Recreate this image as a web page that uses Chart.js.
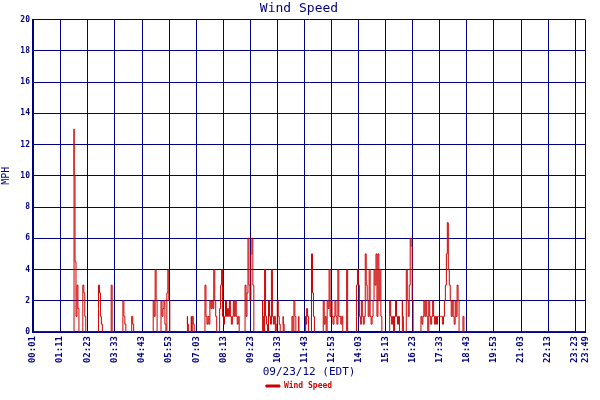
<!DOCTYPE html>
<html><head><script src="https://cdn.jsdelivr.net/npm/chart.js@4/dist/chart.umd.min.js"></script>
<style>body{margin:0;background:#fff}#w{width:600px;height:400px}</style></head>
<body><div id="w"><canvas id="c"></canvas></div>
<script>
const tickLabels=["00:01","01:11","02:23","03:33","04:43","05:53","07:03","08:13","09:23","10:33","11:43","12:53","14:03","15:13","16:23","17:33","18:43","19:53","21:03","22:13","23:23","23:49"];
const tickMinutes=[1,71,143,213,283,353,423,493,563,633,703,773,843,913,983,1053,1123,1193,1263,1333,1403,1429];
// sample slot index (≈2.527 min per slot from 00:01) and wind speed (MPH)
const slots=[42,43,44,45,46,47,48,51,52,53,54,55,67,68,69,70,71,72,80,81,82,92,93,94,95,96,101,102,103,104,
123,124,125,126,127,128,131,132,133,134,135,136,137,138,139,140,141,158,159,160,162,163,164,165,166,
176,177,178,179,180,181,182,183,184,185,186,187,188,189,191,192,193,194,195,196,197,198,199,200,201,202,203,204,205,206,207,208,209,210,211,212,
217,218,219,220,221,222,223,224,225,226,227,235,236,237,238,239,240,241,242,243,244,245,246,247,248,249,250,251,252,253,254,256,257,258,
265,266,267,268,269,270,272,273,279,280,281,282,283,285,286,287,288,289,297,298,299,300,301,302,303,304,305,306,307,308,309,310,311,312,313,314,315,316,317,318,321,322,323,
331,332,333,334,335,336,337,338,339,340,341,342,343,344,345,346,347,348,349,350,351,352,353,354,355,356,357,358,
365,366,367,368,369,370,371,372,373,374,375,376,378,379,380,382,383,384,385,386,387,388,389,390,
397,398,399,400,401,402,403,404,405,406,407,408,409,410,411,412,413,414,415,416,417,418,419,420,421,422,423,424,425,426,427,428,429,430,431,432,433,434,435,436,437,440,441,442];
const windSpeed=[13,10,4.5,1,3,1.5,0,1.5,3,2.5,1,0,1.5,3,2.5,1,0.5,0,1.5,3,0,1,2,1,0.5,0,0.5,1,0.5,0,
0.5,2,1,4,2,0,1,2,1,1.5,2,0.5,0,2.5,4,2,0,1,0.5,0,1,0,1,0.5,0,
1.5,3,1,0.5,1,0.5,2,1.5,2,1.5,4,2,1,0,0.5,1.5,3,4,1,0.5,1,2,1,1.5,1,2,1,0.5,1,2,1,2,1,0.5,1,0,
1.5,3,1,2.5,6,3,2,5,6,3,0,2,1,0,4,1,0.5,0,2,1,0.5,4,1,0.5,1,0,0.5,2,1,0.5,0,1,0.5,0,
0.5,1,0,2,1,0,1,0,1,0.5,1.5,1,0,2.5,5,2.5,1,0,1,2,0.5,1,0,2,1.5,4,1,2,1,0.5,1,2,1,0.5,4,1,1,0.5,1,0,2,4,0,
1,3,4,3,1,0.5,2,1,0.5,1,5,3,2,1,4,1,0.5,1,2,4,3,5,1,5,2,4,1,0,
1,2,1,0.5,1,0,1,2,1,0.5,1,0,2,1,0,3,4,2,1,3,6,5.5,2,0,
0.5,1,0.5,1,2,1,2,1,0,2,1,0.5,1,2,1,0.5,1,0.5,1,1,1,1,1,0.5,1,2,3,5,7,4,3,2,1,2,1,0.5,2,1,3,2,0,1,1,0];
const yTicks=[0,2,4,6,8,10,12,14,16,18,20];
const MIN_PER_SLOT=2.527;
const pts=[{x:1,y:0}];
slots.forEach((s,i)=>{
  const prev=i>0?slots[i-1]:-10;
  if(s-prev>1) pts.push({x:1+s*MIN_PER_SLOT,y:0});
  pts.push({x:1+s*MIN_PER_SLOT,y:windSpeed[i]});
});
pts.push({x:1429,y:0});
const navy='#000080',F="'DejaVu Sans Mono', monospace";
new Chart(document.getElementById('c'),{type:'line',
data:{datasets:[{label:'Wind Speed',data:pts,borderColor:'#cc0000',backgroundColor:'#cc0000',borderWidth:1,pointRadius:0,stepped:'after',tension:0}]},
options:{responsive:true,maintainAspectRatio:false,animation:false,
layout:{autoPadding:false,padding:{top:0,right:2,left:0,bottom:0}},
plugins:{title:{display:true,text:'Wind Speed',color:navy,font:{family:F,size:13,weight:'normal'},padding:{top:1,bottom:3}},
legend:{position:'bottom',labels:{color:'#cc0000',font:{family:F,size:8,weight:'bold'},boxWidth:14,boxHeight:2,padding:3}},tooltip:{enabled:false}},
scales:{
x:{type:'linear',min:1,max:1429,
 afterBuildTicks:a=>{a.ticks=tickMinutes.map(v=>({value:v}));},
 afterFit:a=>{a.height=47;},
 ticks:{color:navy,autoSkip:false,maxRotation:90,minRotation:90,padding:4,font:{family:F,size:9,weight:'bold'},
  callback:(v)=>{const i=tickMinutes.indexOf(v);return i>=0?tickLabels[i]:'';}},
 grid:{color:navy,lineWidth:1,drawTicks:false},border:{color:navy,width:2},
 title:{display:true,text:'09/23/12 (EDT)',color:navy,font:{family:F,size:11},padding:{top:2,bottom:0}}},
y:{min:0,max:20,afterBuildTicks:a=>{a.ticks=yTicks.map(v=>({value:v}));},
 afterFit:a=>{a.width=33;},
 ticks:{color:navy,font:{family:F,size:8,weight:'bold'},padding:3},
 grid:{color:navy,lineWidth:1,drawTicks:false},border:{color:navy,width:2},
 title:{display:true,text:'MPH',color:navy,font:{family:F,size:10},padding:{top:0,bottom:1}}}
}}});
</script></body></html>
